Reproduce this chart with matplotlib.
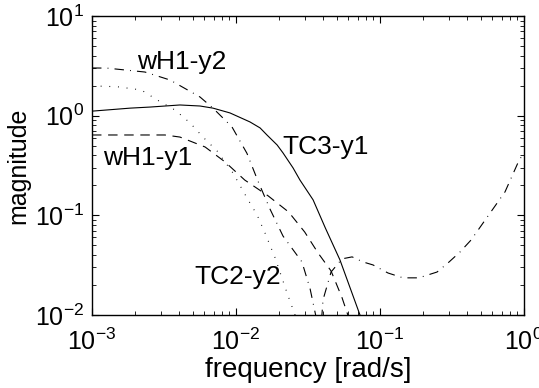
import numpy as np
import matplotlib.pyplot as plt

plt.rcParams['font.family'] = ['Liberation Sans', 'DejaVu Sans']
plt.rcParams['axes.unicode_minus'] = False

# TC3-y1 (solid)
tc3_f = [1.0e-3, 1.84e-3, 2.53e-3, 4.08e-3, 5.62e-3, 6.92e-3, 9.08e-3, 1.25e-2,
         1.47e-2, 1.64e-2, 1.93e-2, 2.12e-2, 2.49e-2, 2.78e-2, 3.43e-2,
         4.17e-2, 5.27e-2, 7.26e-2, 8.5e-2]
tc3_m = [1.11, 1.19, 1.22, 1.28, 1.25, 1.19, 1.065, 0.865,
         0.753, 0.64, 0.508, 0.423, 0.299, 0.226, 0.143,
         0.0748, 0.0357, 0.010, 0.006]

# TC2-y2 (dotted)
tc2_f = [1.0e-3, 1.5e-3, 2.2e-3, 2.83e-3, 3.77e-3, 4.80e-3, 5.89e-3, 7.38e-3,
         9.53e-3, 1.19e-2, 1.40e-2, 1.59e-2, 1.87e-2, 2.26e-2, 2.57e-2, 2.9e-2]
tc2_m = [1.99, 1.95, 1.81, 1.44, 1.14, 0.845, 0.611, 0.443,
         0.266, 0.150, 0.101, 0.0665, 0.0374, 0.0167, 0.010, 0.006]

# wH1-y1 (dashed)
wh1y1_f = [1.0e-3, 1.84e-3, 3.21e-3, 4.08e-3, 6.10e-3, 8.40e-3, 1.15e-2,
           1.67e-2, 2.32e-2, 3.0e-2, 3.71e-2, 4.57e-2, 5.45e-2, 5.98e-2, 6.6e-2]
wh1y1_m = [0.64, 0.64, 0.64, 0.61, 0.485, 0.343, 0.226,
           0.157, 0.108, 0.068, 0.042, 0.0277, 0.0149, 0.010, 0.006]

# wH1-y2 (dash-dot)
wh1y2_f = [1.0e-3, 1.27e-3, 2.33e-3, 3.48e-3, 5.62e-3, 6.92e-3, 9.38e-3,
           1.19e-2, 1.42e-2, 1.72e-2, 2.12e-2, 2.87e-2, 3.27e-2, 3.85e-2,
           4.02e-2, 4.57e-2, 5.45e-2, 6.40e-2, 7.61e-2, 8.94e-2, 0.1136,
           0.1445, 0.186, 0.249, 0.302, 0.360, 0.429, 0.738, 0.907, 1.0]
wh1y2_m = [3.01, 3.0, 2.74, 2.28, 1.54, 1.19, 0.77,
           0.42, 0.221, 0.116, 0.062, 0.0341, 0.0183, 0.006,
           0.0142, 0.027, 0.0366, 0.0383, 0.0341, 0.0318, 0.0264,
           0.0236, 0.0236, 0.027, 0.0341, 0.0430, 0.0566, 0.172, 0.336, 0.432]

labels = ['wH1-y2', 'wH1-y1', 'TC3-y1', 'TC2-y2']
label_f = [4.2e-3, 2.45e-3, 4.22e-2, 1.03e-2]
label_m = [3.46, 0.377, 0.485, 0.0241]

fig = plt.figure(figsize=(5.39, 3.88), dpi=100)
ax = fig.add_axes([0.1707, 0.1881, 0.8015, 0.7707])

lw = 0.8
ax.plot(tc3_f, tc3_m, color='k', lw=lw)
ax.plot(tc2_f, tc2_m, color='k', lw=lw, dashes=(0.8, 7))
ax.plot(wh1y1_f, wh1y1_m, color='k', lw=lw, dashes=(8.5, 6))
ax.plot(wh1y2_f, wh1y2_m, color='k', lw=lw, dashes=(8.5, 5.5, 0.8, 5.5))

for t, xf, ym in zip(labels, label_f, label_m):
    ax.text(xf, ym, t, fontsize=19, ha='center', va='center')

ax.set_xscale('log')
ax.set_yscale('log')
ax.set_xlim(1e-3, 1e0)
ax.set_ylim(1e-2, 1e1)

ax.tick_params(which='both', direction='in', top=True, right=True, labelsize=18)
ax.tick_params(which='major', length=5, width=0.8)
ax.tick_params(which='minor', length=3, width=0.6)
ax.tick_params(axis='x', which='major', pad=10)
ax.tick_params(axis='y', which='major', pad=6)
for s in ax.spines.values():
    s.set_linewidth(1.0)

ax.set_xlabel('frequency [rad/s]', fontsize=20)
ax.set_ylabel('magnitude', fontsize=18)
ax.xaxis.set_label_coords(0.5, -0.14)
ax.yaxis.set_label_coords(-0.143, 0.5)

fig.savefig('out.png', dpi=100)
